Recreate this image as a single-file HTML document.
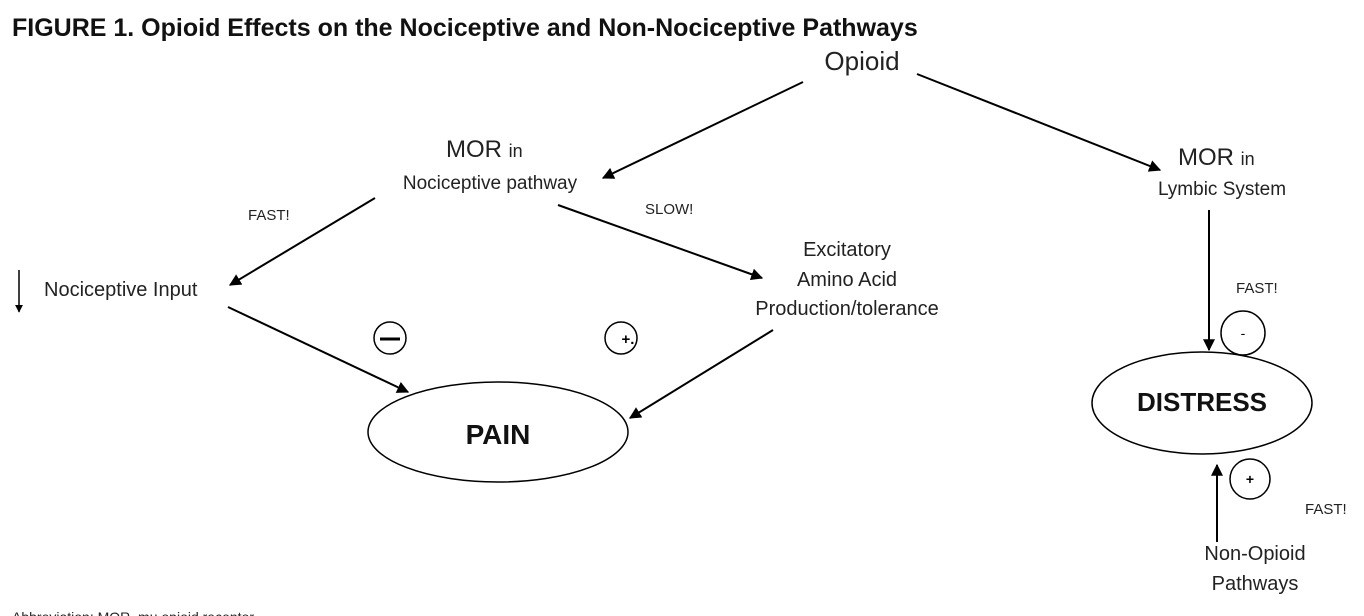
<!DOCTYPE html>
<html><head><meta charset="utf-8"><style>
html,body{margin:0;padding:0;background:#fff;}
svg{display:block;font-family:"Liberation Sans",sans-serif;}
</style></head><body>
<svg width="1364" height="616" viewBox="0 0 1364 616" xmlns="http://www.w3.org/2000/svg">
<defs>
<marker id="a" viewBox="0 0 10 10" refX="9" refY="5" markerWidth="8" markerHeight="8" markerUnits="userSpaceOnUse" orient="auto"><path d="M0,0 L10,5 L0,10 z" fill="#000"/></marker>
<marker id="b" viewBox="0 0 10 10" refX="9" refY="5" markerWidth="12" markerHeight="12" markerUnits="userSpaceOnUse" orient="auto"><path d="M0,0 L10,5 L0,10 z" fill="#000"/></marker>
</defs>
<text x="12" y="36" font-size="25" font-weight="bold" fill="#111">FIGURE 1. Opioid Effects on the Nociceptive and Non-Nociceptive Pathways</text>
<text x="862" y="70" font-size="26" text-anchor="middle" fill="#222">Opioid</text>
<g stroke="#000" stroke-width="2" fill="none">
<line x1="803" y1="82" x2="603" y2="178" marker-end="url(#b)"/>
<line x1="917" y1="74" x2="1160" y2="170" marker-end="url(#b)"/>
<line x1="375" y1="198" x2="230" y2="285" marker-end="url(#b)"/>
<line x1="558" y1="205" x2="762" y2="278" marker-end="url(#b)"/>
<line x1="228" y1="307" x2="408" y2="392" marker-end="url(#b)"/>
<line x1="773" y1="330" x2="630" y2="418" marker-end="url(#b)"/>
<line x1="19" y1="270" x2="19" y2="312" stroke-width="1.5" marker-end="url(#a)"/>
<line x1="1209" y1="210" x2="1209" y2="350" marker-end="url(#b)"/>
<line x1="1217" y1="542" x2="1217" y2="465" marker-end="url(#b)"/>
<ellipse cx="498" cy="432" rx="130" ry="50" stroke-width="1.5"/>
<ellipse cx="1202" cy="403" rx="110" ry="51" stroke-width="1.5"/>
<circle cx="390" cy="338" r="16" stroke-width="1.5"/>
<circle cx="621" cy="338" r="16" stroke-width="1.5"/>
<circle cx="1243" cy="333" r="22" stroke-width="1.5"/>
<circle cx="1250" cy="479" r="20" stroke-width="1.5"/>
<line x1="380" y1="339" x2="400" y2="339" stroke-width="3"/>
</g>
<text x="628" y="344" font-size="15" font-weight="bold" text-anchor="middle">+.</text>
<text x="1243" y="338" font-size="14" text-anchor="middle">-</text>
<text x="1250" y="484" font-size="14" font-weight="bold" text-anchor="middle">+</text>
<text x="446" y="157" font-size="24" fill="#222">MOR <tspan font-size="18">in</tspan></text>
<text x="490" y="189" font-size="19" text-anchor="middle" fill="#222">Nociceptive pathway</text>
<text x="248" y="220" font-size="15" fill="#222">FAST!</text>
<text x="645" y="214" font-size="15" fill="#222">SLOW!</text>
<g font-size="20" text-anchor="middle" fill="#222">
<text x="847" y="256">Excitatory</text>
<text x="847" y="286">Amino Acid</text>
<text x="847" y="315">Production/tolerance</text>
<text x="1255" y="560">Non-Opioid</text>
<text x="1255" y="590">Pathways</text>
</g>
<text x="44" y="296" font-size="20" fill="#222">Nociceptive Input</text>
<text x="498" y="444" font-size="28" font-weight="bold" text-anchor="middle" fill="#111">PAIN</text>
<text x="1202" y="411" font-size="26" font-weight="bold" text-anchor="middle" fill="#111">DISTRESS</text>
<text x="1178" y="165" font-size="24" fill="#222">MOR <tspan font-size="18">in</tspan></text>
<text x="1222" y="195" font-size="19" text-anchor="middle" fill="#222">Lymbic System</text>
<text x="1236" y="293" font-size="15" fill="#222">FAST!</text>
<text x="1305" y="514" font-size="15" fill="#222">FAST!</text>
<text x="12" y="622" font-size="14" fill="#222">Abbreviation: MOR, mu opioid receptor</text>
</svg>
</body></html>
